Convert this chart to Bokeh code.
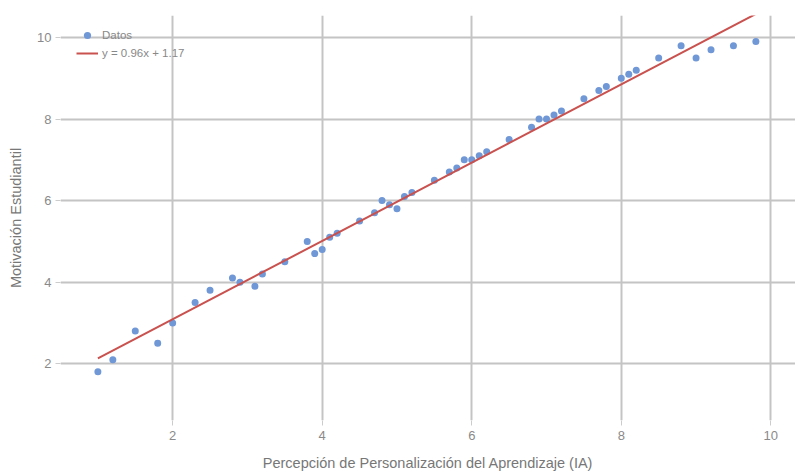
from bokeh.plotting import figure
from bokeh.models import ColumnDataSource, FixedTicker, Legend, LegendItem, Range1d
from bokeh.embed import file_html
from bokeh.resources import INLINE

# Data
x_vals = [1.0, 1.2, 1.5, 1.8, 2.0, 2.3, 2.5, 2.8, 2.9, 3.1, 3.2, 3.5, 3.8, 3.9, 4.0,
          4.1, 4.2, 4.5, 4.7, 4.8, 4.9, 5.0, 5.1, 5.2, 5.5, 5.7, 5.8, 5.9, 6.0, 6.1,
          6.2, 6.5, 6.8, 6.9, 7.0, 7.1, 7.2, 7.5, 7.7, 7.8, 8.0, 8.1, 8.2, 8.5, 8.8,
          9.0, 9.2, 9.5, 9.8]
y_vals = [1.8, 2.1, 2.8, 2.5, 3.0, 3.5, 3.8, 4.1, 4.0, 3.9, 4.2, 4.5, 5.0, 4.7, 4.8,
          5.1, 5.2, 5.5, 5.7, 6.0, 5.9, 5.8, 6.1, 6.2, 6.5, 6.7, 6.8, 7.0, 7.0, 7.1,
          7.2, 7.5, 7.8, 8.0, 8.0, 8.1, 8.2, 8.5, 8.7, 8.8, 9.0, 9.1, 9.2, 9.5, 9.8,
          9.5, 9.7, 9.8, 9.9]
slope = 0.96
intercept = 1.17
x_ticks = [2, 4, 6, 8, 10]
y_ticks = [2, 4, 6, 8, 10]
x_title = "Percepción de Personalización del Aprendizaje (IA)"
y_title = "Motivación Estudiantil"
series_label = "Datos"
fit_label = f"y = {slope:.2f}x + {intercept:.2f}"

fit_x = [min(x_vals), max(x_vals)]
fit_y = [slope * v + intercept for v in fit_x]

FONT = "Liberation Sans"

p = figure(width=795, height=473, output_backend="svg", toolbar_location=None,
           x_range=Range1d(0.5, 10.33), y_range=Range1d(0.607, 10.54),
           min_border_left=60, min_border_right=0, min_border_top=15, min_border_bottom=52)
p.outline_line_color = None
p.background_fill_color = "white"
p.border_fill_color = "white"

pts = p.scatter(x="x", y="y", source=ColumnDataSource(dict(x=x_vals, y=y_vals)),
                size=7, color="#7097d6", line_color=None)
ln = p.line(x=fit_x, y=fit_y, line_color="#c9514e", line_width=2)

for ax in (p.xaxis[0], p.yaxis[0]):
    ax.axis_line_color = None
    ax.major_tick_in = 0
    ax.major_tick_out = 5
    ax.major_tick_line_color = "#cccccc"
    ax.minor_tick_line_color = None
    ax.major_label_text_color = "#8a8a8a"
    ax.major_label_text_font = FONT
    ax.major_label_text_font_size = "13px"
    ax.axis_label_text_color = "#777777"
    ax.axis_label_text_font = FONT
    ax.axis_label_text_font_size = "14.5px"
    ax.axis_label_text_font_style = "normal"

p.xaxis[0].ticker = FixedTicker(ticks=x_ticks)
p.yaxis[0].ticker = FixedTicker(ticks=y_ticks)
p.xaxis[0].axis_label = x_title
p.yaxis[0].axis_label = y_title
p.xaxis[0].major_label_standoff = 5
p.xaxis[0].axis_label_standoff = 12
p.yaxis[0].major_label_standoff = 4
p.yaxis[0].axis_label_standoff = 10

p.xgrid.ticker = FixedTicker(ticks=x_ticks)
p.ygrid.ticker = FixedTicker(ticks=y_ticks)
for g in (p.xgrid[0], p.ygrid[0]):
    g.grid_line_color = "#c4c4c4"
    g.grid_line_width = 2

legend = Legend(items=[LegendItem(label=series_label, renderers=[pts]),
                       LegendItem(label=fit_label, renderers=[ln])],
                location=(16, 358))
legend.background_fill_alpha = 0
legend.border_line_alpha = 0
legend.padding = 0
legend.margin = 0
legend.spacing = 0
legend.glyph_width = 22
legend.glyph_height = 18
legend.label_height = 18
legend.label_standoff = 4
legend.label_text_font = FONT
legend.label_text_font_size = "11.5px"
legend.label_text_color = "#888888"
p.add_layout(legend)

open("out.html", "w").write(file_html(p, INLINE))
